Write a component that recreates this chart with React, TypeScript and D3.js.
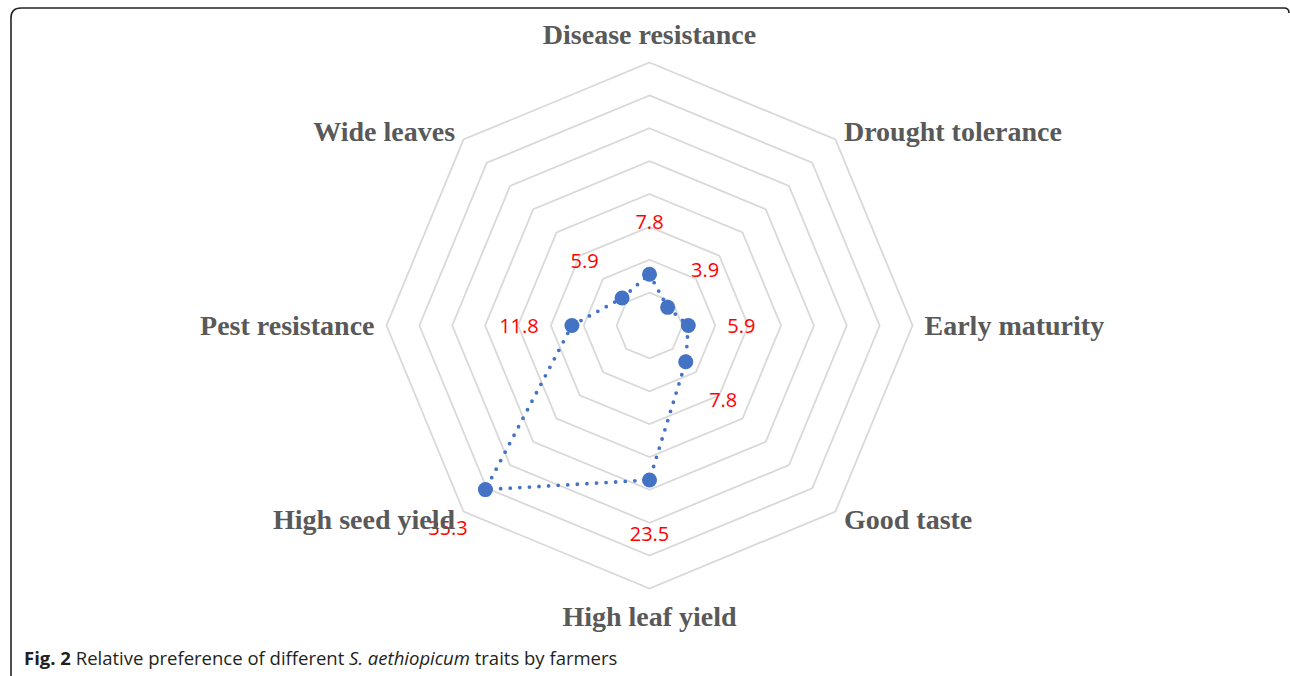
import { useRef, useEffect } from "react";
import * as d3 from "d3";

const traits = [
  "Disease resistance",
  "Drought tolerance",
  "Early maturity",
  "Good taste",
  "High leaf yield",
  "High seed yield",
  "Pest resistance",
  "Wide leaves",
];
const preference = [7.8, 3.9, 5.9, 7.8, 23.5, 35.3, 11.8, 5.9];
const ringTicks = [5, 10, 15, 20, 25, 30, 35, 40];

export default function App() {
  const svgRef = useRef<SVGSVGElement>(null);
  const width = 1290;
  const height = 676;

  useEffect(() => {
    if (!svgRef.current) return;
    const svg = d3.select(svgRef.current);
    svg.selectAll("*").remove();

    const cx = 649.5;
    const cy = 325.5;
    const n = traits.length;
    const angle = (i: number) => (i * 2 * Math.PI) / n;

    const r = d3.scaleLinear().domain([0, 40]).range([0, 263]);

    // frame
    svg
      .append("path")
      .attr("d", "M11,676 L11,18 Q11,8 21,8 L1284,8 Q1289,8 1289,13")
      .attr("fill", "none")
      .attr("stroke", "#222")
      .attr("stroke-width", 1.6);

    const g = svg.append("g").attr("transform", `translate(${cx},${cy})`);

    // grid rings
    const ring = d3
      .lineRadial<number>()
      .angle((_, i) => angle(i))
      .radius((d) => r(d))
      .curve(d3.curveLinearClosed);

    g.selectAll("path.ring")
      .data(ringTicks)
      .join("path")
      .attr("class", "ring")
      .attr("d", (t) => ring(traits.map(() => t)))
      .attr("fill", "none")
      .attr("stroke", "#d9d9d9")
      .attr("stroke-width", 1.8);

    // data line
    g.append("path")
      .attr("d", ring(preference))
      .attr("fill", "none")
      .attr("stroke", "#4472c4")
      .attr("stroke-width", 3.8)
      .attr("stroke-linecap", "round")
      .attr("stroke-dasharray", "0 9.6");

    const px = (v: number, i: number) => r(v) * Math.sin(angle(i));
    const py = (v: number, i: number) => -r(v) * Math.cos(angle(i));

    g.selectAll("circle")
      .data(preference)
      .join("circle")
      .attr("cx", (d, i) => px(d, i))
      .attr("cy", (d, i) => py(d, i))
      .attr("r", 7.5)
      .attr("fill", "#4472c4");

    // value labels
    g.selectAll("text.val")
      .data(preference)
      .join("text")
      .attr("class", "val")
      .attr("x", (d, i) => (r(d) + 53) * Math.sin(angle(i)))
      .attr("y", (d, i) => -(r(d) + 53) * Math.cos(angle(i)))
      .attr("text-anchor", "middle")
      .attr("dominant-baseline", "central")
      .attr("font-family", "'Open Sans', sans-serif")
      .attr("font-size", 20)
      .attr("fill", "#ff0000")
      .text((d) => d.toFixed(1));

    // category labels
    g.selectAll("text.cat")
      .data(traits)
      .join("text")
      .attr("class", "cat")
      .each(function (d, i) {
        const a = angle(i);
        const s = Math.sin(a);
        const c = Math.cos(a);
        const vertical = Math.abs(s) < 0.1;
        const rad = vertical ? 291 : 275;
        d3.select(this)
          .attr("x", rad * s)
          .attr("y", -rad * c)
          .attr("text-anchor", s > 0.1 ? "start" : s < -0.1 ? "end" : "middle");
      })
      .attr("dominant-baseline", "central")
      .attr("font-family", "'Liberation Serif', serif")
      .attr("font-weight", "bold")
      .attr("font-size", 28)
      .attr("fill", "#595959")
      .text((d) => d);

    // caption
    const cap = svg
      .append("text")
      .attr("x", 24)
      .attr("y", 665)
      .attr("font-family", "'Open Sans', sans-serif")
      .attr("font-size", 18.5)
      .attr("fill", "#231f20");
    cap.append("tspan").attr("font-weight", "bold").text("Fig. 2");
    cap.append("tspan").text(" Relative preference of different ");
    cap.append("tspan").attr("font-style", "italic").text("S. aethiopicum");
    cap.append("tspan").text(" traits by farmers");
  }, []);

  return (
    <svg
      ref={svgRef}
      width={width}
      height={height}
      style={{ position: "absolute", left: 0, top: 0, background: "#fff" }}
    />
  );
}
